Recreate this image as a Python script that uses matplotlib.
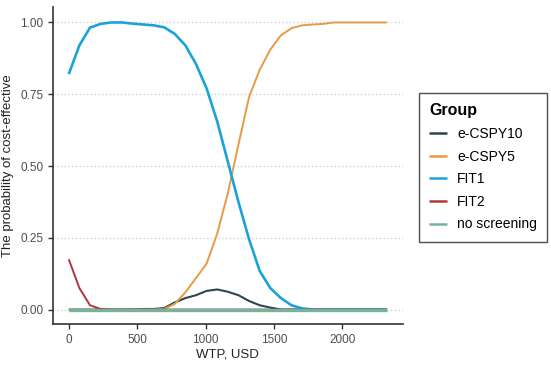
import matplotlib
matplotlib.use("Agg")
import matplotlib.pyplot as plt
import numpy as np

plt.rcParams['font.family'] = ['Liberation Sans', 'DejaVu Sans']

wtp = [0, 77.5, 155, 232.5, 310, 387.5, 465, 542.5, 620, 697.5, 775, 852.5, 930, 1007.5,
       1085, 1162.5, 1240, 1317.5, 1395, 1472.5, 1550, 1627.5, 1705, 1782.5, 1860, 1937.5,
       2015, 2092.5, 2170, 2247.5, 2325]

e_cspy10 = [0, 0, 0, 0, 0, 0, 0, 0.002, 0.002, 0.005, 0.025, 0.04, 0.05, 0.065,
            0.07, 0.062, 0.05, 0.03, 0.015, 0.007, 0.0, 0, 0, 0, 0, 0, 0, 0, 0, 0, 0]
e_cspy5 = [0, 0, 0, 0, 0, 0, 0, 0, 0, 0.002, 0.02, 0.06, 0.11, 0.16,
           0.265, 0.405, 0.575, 0.74, 0.835, 0.905, 0.955, 0.98, 0.99, 0.993, 0.995, 1.0,
           1.0, 1.0, 1.0, 1.0, 1.0]
fit1 = [0.82, 0.92, 0.982, 0.995, 1.0, 1.0, 0.996, 0.993, 0.99, 0.983, 0.96, 0.92, 0.855, 0.77,
        0.655, 0.515, 0.375, 0.245, 0.135, 0.075, 0.04, 0.015, 0.004, 0, 0, 0, 0, 0, 0, 0, 0]
fit2 = [0.175, 0.075, 0.015, 0.002] + [0] * 27
no_screening = [0] * 31

groups = ["e-CSPY10", "e-CSPY5", "FIT1", "FIT2", "no screening"]
series = [e_cspy10, e_cspy5, fit1, fit2, no_screening]
colors = ["#2E4450", "#E69A45", "#1AA3D8", "#B0363B", "#72B59C"]
widths = [1.5, 1.4, 1.9, 1.4, 2.4]

yticks = [0.0, 0.25, 0.5, 0.75, 1.0]
ytick_labels = ["0.00", "0.25", "0.50", "0.75", "1.00"]
xticks = [0, 500, 1000, 1500, 2000]

fig = plt.figure(figsize=(5.51, 3.66), dpi=100)
ax = fig.add_axes([0.096, 0.115, 0.635, 0.866])

for g, s, c, w in zip(groups, series, colors, widths):
    ax.plot(wtp, s, color=c, lw=w, label=g, solid_capstyle='butt')

ax.set_xlim(-116, 2441)
ax.set_ylim(-0.05, 1.054)
ax.set_yticks(yticks)
ax.set_yticklabels(ytick_labels)
ax.set_xticks(xticks)
ax.grid(axis='y', color='#c8c8c8', linestyle=(0, (1, 2)), lw=0.9)
ax.set_axisbelow(True)
for sp in ['top', 'right']:
    ax.spines[sp].set_visible(False)
for sp in ['left', 'bottom']:
    ax.spines[sp].set_color('#333333')
    ax.spines[sp].set_linewidth(1.2)
ax.tick_params(axis='both', colors='#333333', labelcolor='#4d4d4d', labelsize=8.5, length=3.5, width=1)
ax.set_xlabel("WTP, USD", fontsize=9.5, color='#222222', labelpad=2)
ax.set_ylabel("The probability of cost-effective", fontsize=9.5, color='#222222', labelpad=4)

handles, labels = ax.get_legend_handles_labels()
leg = fig.legend(handles, labels, loc='upper left', bbox_to_anchor=(0.760, 0.746), title="Group",
                 frameon=True, fancybox=False, fontsize=10, title_fontsize=11.5,
                 handlelength=1.25, handletextpad=0.75, labelspacing=0.62, borderpad=0.75,
                 borderaxespad=0)
leg.get_title().set_fontweight('bold')
leg._legend_box.align = "left"
leg.get_frame().set_edgecolor('#222222')
leg.get_frame().set_linewidth(1.0)
for h in leg.get_lines():
    h.set_linewidth(1.8)

fig.savefig("out.png", dpi=100)
